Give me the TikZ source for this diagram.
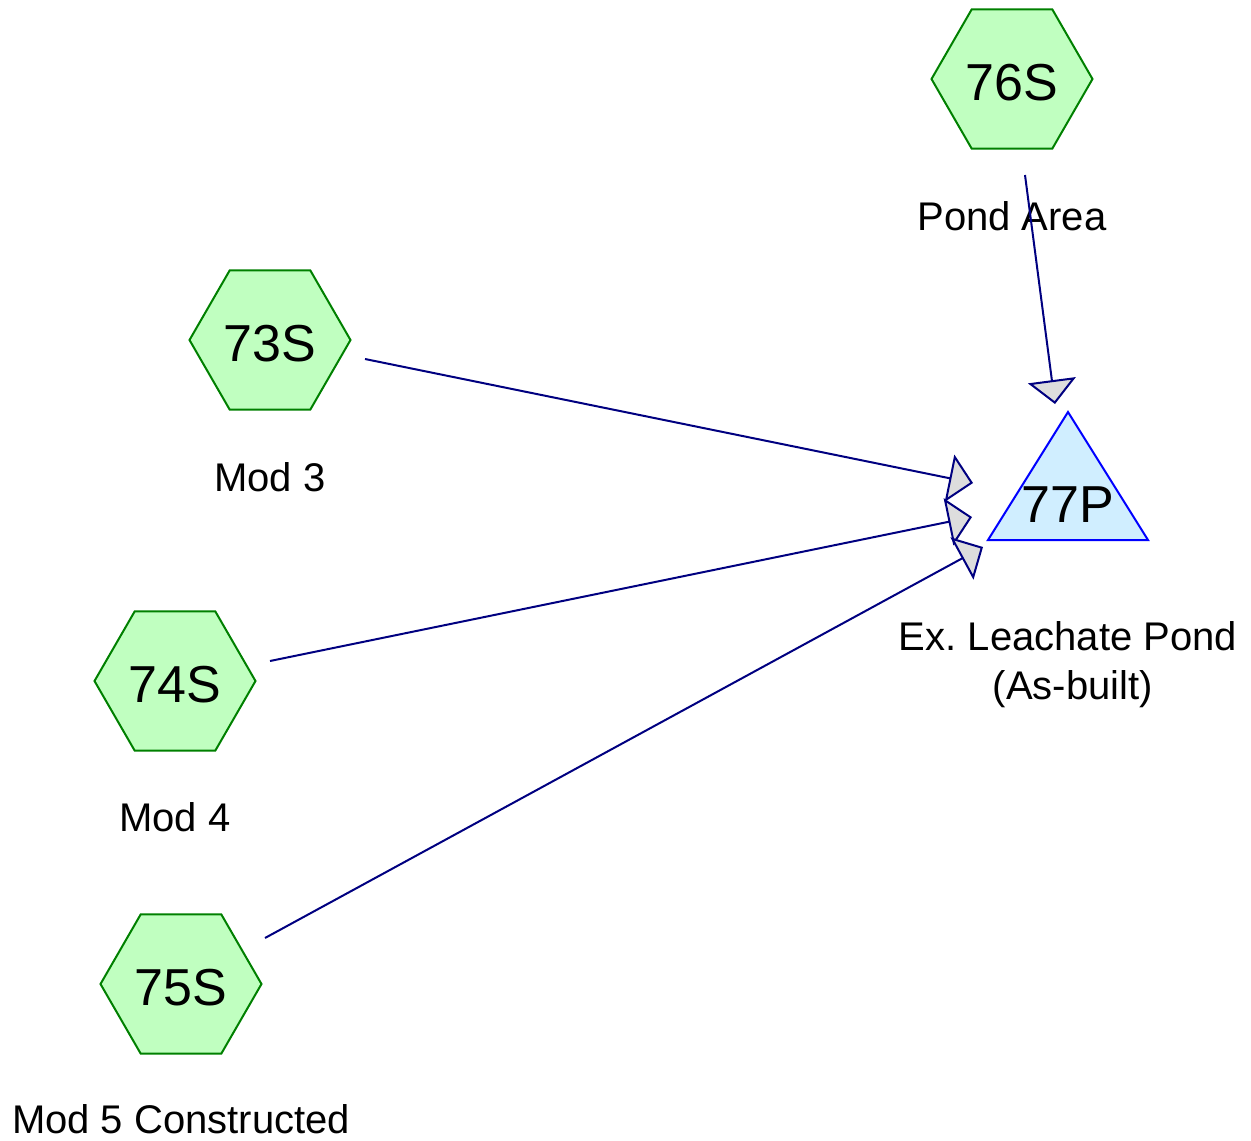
\documentclass[tikz,border=0pt]{standalone}
\usepackage{fontspec}
\setmainfont{Liberation Sans}
\usetikzlibrary{shapes.geometric,arrows.meta}
\definecolor{hexfill}{HTML}{C0FFC0}
\definecolor{hexdraw}{HTML}{008000}
\definecolor{pondfill}{HTML}{D0EEFF}
\definecolor{ponddraw}{HTML}{0000FF}
\definecolor{linkcol}{HTML}{000080}
\definecolor{tipfill}{HTML}{DDDDDD}
\tikzset{
  hexnode/.style={regular polygon, regular polygon sides=6, minimum size=161pt, inner sep=0pt,
    text height=42pt, text depth=0pt,
    fill=hexfill, draw=hexdraw, line width=2pt, font=\fontsize{52}{60}\selectfont},
  lbl/.style={anchor=base, inner sep=0pt, font=\fontsize{40}{48}\selectfont},
  link/.style={draw=linkcol, line width=2pt,
    -{Triangle[length=24pt, width=48pt, fill=tipfill, line width=2pt]}},
}
\begin{document}
\frenchspacing
\begin{tikzpicture}[x=1pt, y=-1pt]
\useasboundingbox (0,0) rectangle (1251,1141);
% hexagons
\node[hexnode] (n76) at (1012,79) {76S};
\node[hexnode] (n73) at (270,340) {73S};
\node[hexnode] (n74) at (175,681) {74S};
\node[hexnode] (n75) at (181,984) {75S};
% pond
\filldraw[fill=pondfill, draw=ponddraw, line width=2pt] (1068,412) -- (1148,540) -- (988,540) -- cycle;
\node[anchor=base, inner sep=0pt, font=\fontsize{52}{60}\selectfont] (n77) at (1068,522) {77P};
% labels
\node[lbl] (l76) at (1012,230) {Pond Area};
\node[lbl] (l73) at (270,491) {Mod 3};
\node[lbl] (l74) at (175,831) {Mod 4};
\node[lbl] (l75) at (181,1133) {Mod 5 Constructed};
\node[lbl] (l77a) at (1068,650) {Ex.\ Leachate Pond};
\node[lbl] (l77b) at (1073,699) {(As-built)};
% connector ends
\coordinate (s76) at (1025,175);
\coordinate (s73) at (365,359);
\coordinate (s74) at (270,661);
\coordinate (s75) at (265,938);
\coordinate (t76) at (1055,404);
\coordinate (t73) at (973,483);
\coordinate (t74) at (972,517);
\coordinate (t75) at (983,547);
\draw[link] (s76) -- (t76);
\draw[link] (s73) -- (t73);
\draw[link] (s74) -- (t74);
\draw[link] (s75) -- (t75);
\end{tikzpicture}
\end{document}
